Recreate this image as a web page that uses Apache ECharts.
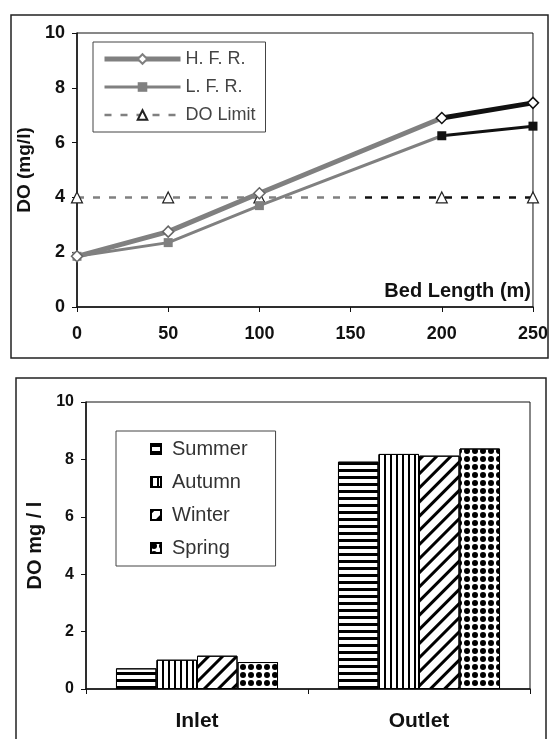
<!DOCTYPE html>
<html><head><meta charset="utf-8">
<script src="https://cdn.jsdelivr.net/npm/echarts@6/dist/echarts.min.js"></script>
<style>html,body{margin:0;padding:0;background:#fff}#c{width:551px;height:739px}</style>
</head><body><div id="c"></div>
<script>
// ---- top chart data ----
const bedLength = [0, 50, 100, 200, 250];
const hfr = [1.85, 2.75, 4.15, 6.9, 7.45];
const lfr = [1.85, 2.35, 3.7, 6.25, 6.6];
const doLimit = [4, 4, 4, 4, 4];
const lineNames = ['H. F. R.', 'L. F. R.', 'DO Limit'];
// ---- bottom chart data ----
const sites = ['Inlet', 'Outlet'];
const seasons = ['Summer', 'Autumn', 'Winter', 'Spring'];
const summer = [0.72, 7.92];
const autumn = [1.02, 8.19];
const winter = [1.16, 8.13];
const spring = [0.94, 8.38];

const FONT = "'Liberation Sans', Arial, sans-serif";
const GREY = '#808080', DARK = '#111';
function grad(stop) {
  return new echarts.graphic.LinearGradient(0, 0, 1, 0, [
    {offset: 0, color: GREY}, {offset: stop - 0.01, color: GREY},
    {offset: stop + 0.01, color: DARK}, {offset: 1, color: DARK}]);
}
function pts(vals, darkFrom, light, dark) {
  return bedLength.map((x, i) => ({value: [x, vals[i]], itemStyle: x >= darkFrom ? dark : light}));
}
const axisLbl = {fontFamily: FONT, fontWeight: 'bold', color: '#111'};
const decals = [
  {symbol: 'rect', symbolSize: 1, dashArrayX: [1, 0], dashArrayY: [3, 4], rotation: 0, color: '#000'},
  {symbol: 'rect', symbolSize: 1, dashArrayX: [2, 3.5], dashArrayY: [1, 0], rotation: 0, color: '#000'},
  {symbol: 'rect', symbolSize: 1, dashArrayX: [1, 0], dashArrayY: [2.5, 7], rotation: -Math.PI / 4, color: '#000'},
  {symbol: 'circle', symbolSize: 1, dashArrayX: [5.5, 1.2], dashArrayY: [5.5, 1.2], rotation: 0, color: '#000'}
];
const seasonVals = [summer, autumn, winter, spring];

const option = {
  backgroundColor: '#fff',
  animation: false,
  graphic: [
    {type: 'rect', shape: {x: 11, y: 15, width: 537, height: 343}, style: {fill: 'none', stroke: '#222', lineWidth: 1.5}},
    {type: 'rect', shape: {x: 16, y: 378, width: 530, height: 380}, style: {fill: 'none', stroke: '#222', lineWidth: 1.5}}
  ],
  grid: [
    {left: 77, right: 17, top: 33, bottom: 432, show: true, borderColor: '#111', borderWidth: 1, backgroundColor: 'transparent'},
    {left: 86, right: 21, top: 402, bottom: 50, show: true, borderColor: '#111', borderWidth: 1, backgroundColor: 'transparent'}
  ],
  legend: [
    {
      orient: 'vertical', left: 93, top: 42, padding: [8, 10, 8, 9], itemGap: 10,
      itemWidth: 76, itemHeight: 12, borderColor: '#444', borderWidth: 1,
      textStyle: {fontFamily: FONT, fontSize: 18, color: '#444'},
      data: [
        {name: lineNames[0], lineStyle: {color: GREY, width: 5}},
        {name: lineNames[1], lineStyle: {color: GREY, width: 3}},
        {name: lineNames[2], lineStyle: {color: GREY, width: 2.5}}
      ]
    },
    {
      orient: 'vertical', left: 116, top: 431, padding: [8, 28, 8, 34], itemGap: 13,
      itemWidth: 10, itemHeight: 10, icon: 'rect', borderColor: '#444', borderWidth: 1,
      textStyle: {fontFamily: FONT, fontSize: 20, color: '#333', padding: [0, 0, 0, 6]},
      data: seasons
    }
  ],
  xAxis: [
    {
      type: 'value', gridIndex: 0, min: 0, max: 250, interval: 50,
      name: 'Bed Length (m)', nameLocation: 'end', nameGap: -2,
      nameTextStyle: {fontFamily: FONT, fontWeight: 'bold', fontSize: 20, color: '#111', align: 'right', verticalAlign: 'bottom', padding: [0, 0, 6, 0]},
      axisLine: {lineStyle: {color: '#111', width: 1.5}},
      axisTick: {show: true, length: 5, lineStyle: {color: '#111'}},
      axisLabel: Object.assign({fontSize: 18, margin: 18}, axisLbl),
      splitLine: {show: false}
    },
    {
      type: 'category', gridIndex: 1, data: sites,
      axisLine: {lineStyle: {color: '#111', width: 1.5}},
      axisTick: {show: true, length: 5, alignWithLabel: false, lineStyle: {color: '#111'}},
      axisLabel: Object.assign({fontSize: 21, margin: 22}, axisLbl),
      splitLine: {show: false}
    }
  ],
  yAxis: [
    {
      type: 'value', gridIndex: 0, min: 0, max: 10, interval: 2,
      name: 'DO (mg/l)', nameLocation: 'middle', nameGap: 34, nameRotate: 90,
      nameTextStyle: {fontFamily: FONT, fontWeight: 'bold', fontSize: 19, color: '#111'},
      axisLine: {show: true, lineStyle: {color: '#111', width: 1.5}},
      axisTick: {show: true, length: 5, lineStyle: {color: '#111'}},
      axisLabel: Object.assign({fontSize: 18, margin: 12}, axisLbl),
      splitLine: {show: false}
    },
    {
      type: 'value', gridIndex: 1, min: 0, max: 10, interval: 2,
      name: 'DO mg / l', nameLocation: 'middle', nameGap: 38, nameRotate: 90,
      nameTextStyle: {fontFamily: FONT, fontWeight: 'bold', fontSize: 20, color: '#111'},
      axisLine: {show: true, lineStyle: {color: '#111', width: 1.5}},
      axisTick: {show: true, length: 5, lineStyle: {color: '#111'}},
      axisLabel: Object.assign({fontSize: 16, margin: 12}, axisLbl),
      splitLine: {show: false}
    }
  ],
  series: [
    {
      name: lineNames[0], type: 'line', xAxisIndex: 0, yAxisIndex: 0,
      symbol: 'diamond', symbolSize: 11, z: 4,
      lineStyle: {width: 5, color: grad(0.8)},
      itemStyle: {color: '#fff', borderColor: GREY, borderWidth: 1.5},
      data: pts(hfr, 200, {color: '#fff', borderColor: '#666', borderWidth: 1.5}, {color: '#fff', borderColor: '#111', borderWidth: 1.5})
    },
    {
      name: lineNames[1], type: 'line', xAxisIndex: 0, yAxisIndex: 0,
      symbol: 'rect', symbolSize: 9, z: 3,
      lineStyle: {width: 3, color: grad(0.8)},
      itemStyle: {color: GREY},
      data: pts(lfr, 200, {color: GREY}, {color: DARK})
    },
    {
      name: lineNames[2], type: 'line', xAxisIndex: 0, yAxisIndex: 0,
      symbol: 'triangle', symbolSize: 11, z: 2,
      lineStyle: {width: 2.5, type: [7, 9], color: grad(0.62)},
      itemStyle: {color: '#fff', borderColor: '#222', borderWidth: 1.2},
      data: bedLength.map((x, i) => [x, doLimit[i]])
    }
  ].concat(seasons.map((s, k) => ({
    name: s, type: 'bar', xAxisIndex: 1, yAxisIndex: 1,
    barGap: '0%', barCategoryGap: '27%',
    itemStyle: {color: '#fff', borderColor: '#000', borderWidth: 1, decal: decals[k]},
    data: seasonVals[k]
  })))
};
const chart = echarts.init(document.getElementById('c'), null, {renderer: 'canvas'});
chart.setOption(option);
</script></body></html>
